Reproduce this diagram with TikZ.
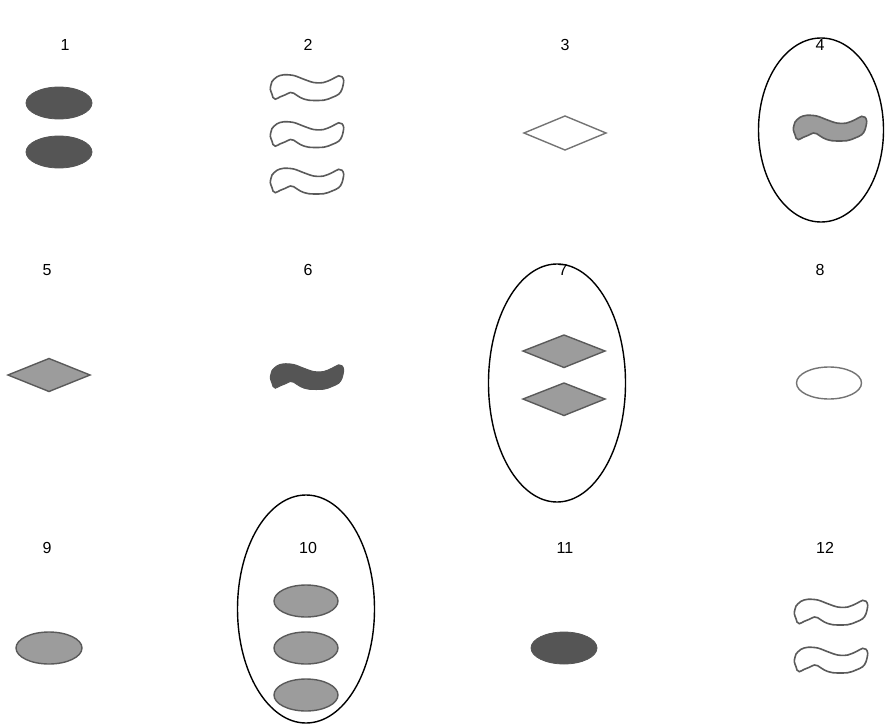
\documentclass[tikz,border=0pt]{standalone}
\usepackage{fontspec}
\setmainfont{Liberation Sans}
\usetikzlibrary{shapes.geometric}
\definecolor{darkfill}{HTML}{555555}
\definecolor{midfill}{HTML}{9C9C9C}
\definecolor{edgegray}{HTML}{5A5A5A}
\tikzset{
  lbl/.style={font=\fontsize{16}{19}\selectfont, inner sep=0pt},
  bigoval/.style={draw=black, line width=1.4pt},
  darkoval/.style={fill=darkfill, draw=darkfill, line width=0.8pt},
  grayoval/.style={fill=midfill, draw=edgegray, line width=1.4pt},
  whiteoval/.style={fill=white, draw=edgegray!85, line width=1.4pt},
  squig/.pic={
    \path[pic actions] plot[smooth cycle, tension=0.55] coordinates {
      (-35,-6) (-30,-10.7) (-23.3,-12.7) (-13.3,-12) (-3.3,-8.3) (6.7,-5)
      (16.7,-5) (25,-8.3) (31.7,-11.7) (35,-10.7) (36.7,-6.7) (35,1.7)
      (31.7,6.7) (25,10) (16.7,12.7) (1.7,12.7) (-6.7,10) (-13.3,5.7)
      (-16.7,5) (-21.7,7.3) (-26.7,9.3) (-31.7,11.7) (-34,10) (-35,6.7)
      (-36.7,1.7) (-36,-2.7)};
  },
  squigline/.style={draw=edgegray, line width=1.6pt}
}
\begin{document}
\begin{tikzpicture}[x=1pt,y=-1pt]
\useasboundingbox (0,0) rectangle (886,725);
% labels
\node[lbl] (l1) at (65,45) {1};
\node[lbl] (l2) at (308,45) {2};
\node[lbl] (l3) at (565,45) {3};
\node[lbl] (l4) at (820,45) {4};
\node[lbl] (l5) at (47,270) {5};
\node[lbl] (l6) at (308,270) {6};
\node[lbl] (l7) at (563,270) {7};
\node[lbl] (l8) at (820,270) {8};
\node[lbl] (l9) at (47,548) {9};
\node[lbl] (l10) at (308,548) {10};
\node[lbl] (l11) at (565,548) {11};
\node[lbl] (l12) at (825,548) {12};
% 1
\path[darkoval] (59,103) ellipse [x radius=33, y radius=16];
\path[darkoval] (59,152) ellipse [x radius=33, y radius=16];
% 2
\pic[squigline, fill=white] at (307,87.5) {squig};
\pic[squigline, fill=white] at (307,134.5) {squig};
\pic[squigline, fill=white] at (307,181) {squig};
% 3
\path[whiteoval] (524,133) -- (565,116) -- (606,133) -- (565,150) -- cycle;
% 4
\path[bigoval] (821,130) ellipse [x radius=62.5, y radius=92];
\pic[squigline, fill=midfill] at (830,128) {squig};
% 5
\path[grayoval] (8,375) -- (49,358.5) -- (90,375) -- (49,391.5) -- cycle;
% 6
\pic[draw=darkfill, fill=darkfill, line width=1pt] at (307,376.5) {squig};
% 7
\path[bigoval] (557,383) ellipse [x radius=68.5, y radius=119];
\path[grayoval] (523,351) -- (564,335) -- (605,351) -- (564,367.5) -- cycle;
\path[grayoval] (523,399) -- (564,383) -- (605,399) -- (564,415.5) -- cycle;
% 8
\path[whiteoval] (829,383) ellipse [x radius=32.5, y radius=16];
% 9
\path[grayoval] (49,648) ellipse [x radius=33, y radius=16];
% 10
\path[bigoval] (306,609) ellipse [x radius=68.5, y radius=114];
\path[grayoval] (306,601) ellipse [x radius=32, y radius=16];
\path[grayoval] (306,648) ellipse [x radius=32, y radius=16];
\path[grayoval] (306,695) ellipse [x radius=32, y radius=16];
% 11
\path[darkoval] (564,648) ellipse [x radius=33, y radius=16];
% 12
\pic[squigline, fill=white] at (831,612) {squig};
\pic[squigline, fill=white] at (831,660) {squig};
\end{tikzpicture}
\end{document}
